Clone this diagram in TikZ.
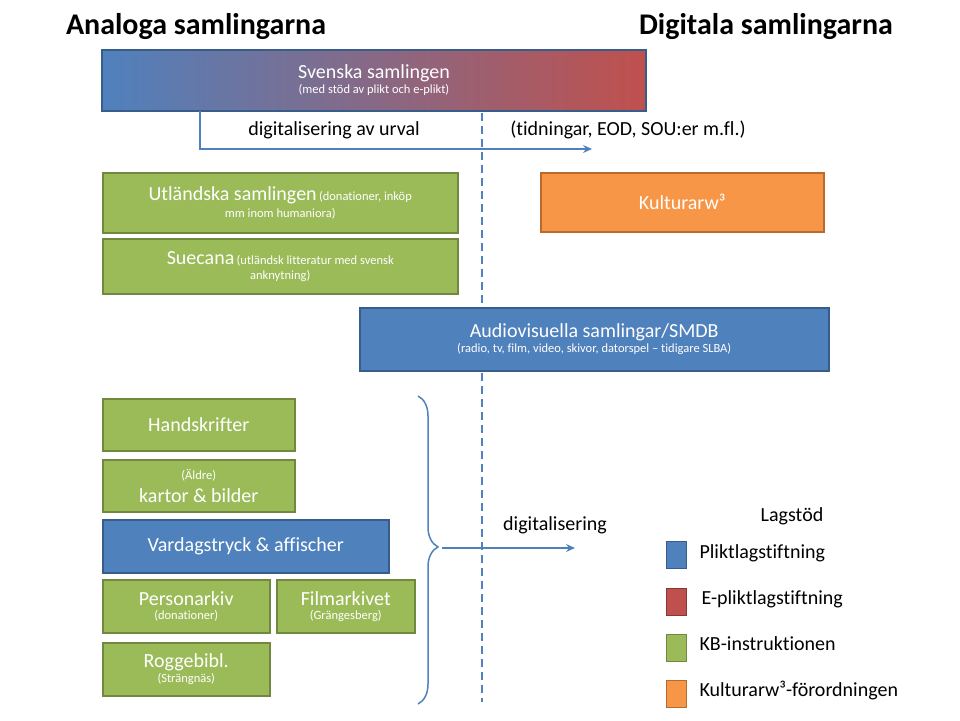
\documentclass[tikz,border=0pt]{standalone}
\usepackage{fontspec}
\setmainfont[Ligatures=NoCommon]{Carlito}
\usetikzlibrary{arrows.meta,decorations.pathreplacing}
\definecolor{bl}{RGB}{79,129,189}
\definecolor{bld}{RGB}{56,93,138}
\definecolor{rd}{RGB}{192,80,77}
\definecolor{gr}{RGB}{155,187,89}
\definecolor{grd}{RGB}{113,137,63}
\definecolor{or}{RGB}{247,150,70}
\definecolor{ord}{RGB}{182,108,49}
\newcommand{\Bf}{\fontsize{20}{22}\selectfont}
\newcommand{\Sf}{\fontsize{12.5}{14}\selectfont}
\tikzset{
 box/.style={draw=#1, line width=1.5pt, text=white, align=center, anchor=north west, inner sep=2pt},
 arr/.style={draw=bl, line width=1.2pt, -{Stealth[length=9pt,width=8pt]}},
 leg/.style={draw=#1, line width=1.2pt, minimum width=20pt, minimum height=27pt, anchor=north west, inner sep=0pt},
 lt/.style={anchor=west, font=\Bf},
}
\newcommand{\bx}[6]{\node[box=#1, fill=#2, minimum width=#5pt, minimum height=#6pt] at (#3,#4)}
\begin{document}
\begin{tikzpicture}[x=1pt,y=-1pt]
\useasboundingbox (0,0) rectangle (960,720);
\node[font=\fontsize{30}{34}\selectfont\bfseries] (ta) at (196,27) {Analoga samlingarna};
\node[font=\fontsize{30}{34}\selectfont\bfseries] (td) at (766,27) {Digitala samlingarna};
\shade[left color=bl, right color=rd] (102,50) rectangle (646,111);
\draw[bld, line width=1.5pt] (102,50) rectangle (646,111);
\node[text=white, align=center] (sv) at (374,80) {{\Bf Svenska samlingen}\\[2pt]{\Sf (med stöd av plikt och e-plikt)}};
\coordinate (s1) at (200,111);
\coordinate (s2) at (592,149);
\draw[arr] (s1) |- (s2);
\node[font=\Bf] (dl) at (334,130) {digitalisering av urval};
\node[font=\Bf] (tl) at (628,130) {(tidningar, EOD, SOU:er m.fl.)};
\coordinate (d1) at (482,113);
\coordinate (d2) at (482,702);
\draw[bl, line width=1.5pt, dash pattern=on 8pt off 5pt] (d1) -- (d2);
\bx{grd}{gr}{102}{172}{355}{60} (ut) {{\Bf Utländska samlingen} {\Sf (donationer, inköp}\\[3pt]{\Sf mm inom humaniora)}};
\bx{grd}{gr}{102}{238}{355}{55} (su) {{\Bf Suecana} {\Sf (utländsk litteratur med svensk}\\[3pt]{\Sf anknytning)}};
\bx{ord}{or}{540}{172}{283}{59} (ku) {\Bf Kulturarw³};
\bx{bld}{bl}{359}{307}{469}{63} (av) {{\Bf Audiovisuella samlingar/SMDB}\\[2pt]{\Sf (radio, tv, film, video, skivor, datorspel – tidigare SLBA)}};
\bx{grd}{gr}{102}{398}{192}{52} (ha) {\Bf Handskrifter};
\bx{grd}{gr}{102}{459}{192}{52} (ka) {{\Sf (Äldre)}\\[6pt]{\Bf kartor \& bilder}};
\bx{bld}{bl}{102}{519}{286}{53} (va) {\Bf Vardagstryck \& affischer};
\bx{grd}{gr}{102}{579}{167}{53} (pe) {{\Bf Personarkiv}\\[2pt]{\Sf (donationer)}};
\bx{grd}{gr}{276}{579}{138}{53} (fi) {{\Bf Filmarkivet}\\[2pt]{\Sf (Grängesberg)}};
\bx{grd}{gr}{102}{642}{167}{53} (ro) {{\Bf Roggebibl.}\\[2pt]{\Sf (Strängnäs)}};
\coordinate (b1) at (418,396);
\coordinate (b2) at (418,704);
\draw[bl, line width=1.5pt, decorate, decoration={brace, amplitude=20pt, aspect=0.49}] (b1) -- (b2);
\coordinate (bt) at (442,548);
\coordinate (be) at (575,548);
\draw[arr] (bt) -- (be);
\node[font=\Bf] (dg) at (555,525) {digitalisering};
\node[font=\Bf] (lg) at (792,516) {Lagstöd};
\node[leg=bld, fill=bl] (l1) at (666,541) {};
\node[leg=rd!70!black, fill=rd] (l2) at (666,588) {};
\node[leg=grd, fill=gr] (l3) at (666,634) {};
\node[leg=ord, fill=or] (l4) at (666,680) {};
\node[lt] (t1) at (696,553) {Pliktlagstiftning};
\node[lt] (t2) at (698,599) {E-pliktlagstiftning};
\node[lt] (t3) at (696,644) {KB-instruktionen};
\node[lt] (t4) at (696,690) {Kulturarw³-förordningen};
\end{tikzpicture}
\end{document}
